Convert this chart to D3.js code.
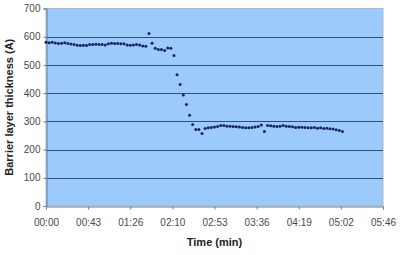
<!DOCTYPE html>
<html>
<head>
<meta charset="utf-8">
<script src="https://cdn.jsdelivr.net/npm/d3@7"></script>
<style>
  body { margin: 0; background: #fff; }
  svg { display: block; font-family: "Liberation Sans", Arial, sans-serif; }
</style>
</head>
<body>
<svg></svg>
<script>
// time in seconds, thickness in angstrom
var times = [
  0, 3.2, 6.4, 9.6, 12.8, 16, 19.2, 22.4, 25.6, 28.8,
  32, 35.2, 38.4, 41.6, 44.8, 48, 51.2, 54.4, 57.6, 60.8,
  64, 67.2, 70.4, 73.6, 76.8, 80, 83.2, 86.4, 89.6, 92.8,
  96, 99.2, 102.4, 105.6, 108.8, 112, 115.2, 118.4, 121.6, 124.8,
  128, 131.2, 134.4, 137.6, 140.8, 144, 147.2, 150.4, 153.6, 156.8,
  160, 163.2, 166.4, 169.6, 172.8, 176, 179.2, 182.4, 185.6, 188.8,
  192, 195.2, 198.4, 201.6, 204.8, 208, 211.2, 214.4, 217.6, 220.8,
  224, 227.2, 230.4, 233.6, 236.8, 240, 243.2, 246.4, 249.6, 252.8,
  256, 259.2, 262.4, 265.6, 268.8, 272, 275.2, 278.4, 281.6, 284.8,
  288, 291.2, 294.4, 297.6, 300.8, 304
];
var thickness = [
  580, 579, 580, 578, 576, 577, 579, 576, 574, 572,
  570, 569, 570, 569, 572, 572, 573, 572, 572, 571,
  575, 577, 576, 576, 575, 575, 571, 570, 571, 572,
  571, 567, 566, 611, 577, 559, 555, 555, 551, 560,
  559, 533, 465, 431, 393, 360, 322, 289, 271, 271,
  257, 275, 277, 278, 280, 282, 285, 285, 283, 283,
  282, 281, 280, 278, 277, 277, 278, 280, 282, 287,
  264, 285, 284, 283, 282, 283, 285, 283, 282, 281,
  278, 279, 279, 278, 277, 277, 278, 276, 277, 275,
  276, 274, 273, 270, 268, 264
];
var xTicks = [0, 43.2, 86.4, 129.6, 172.8, 216, 259.2, 302.4, 345.6];
var yTicks = [0, 100, 200, 300, 400, 500, 600, 700];

var width = 400;
var height = 255;
var margin = { top: 8.5, right: 17, bottom: 49, left: 46 };

var data = times.map((t, i) => ({ t: t, v: thickness[i] }));

var svg = d3.select("svg")
    .attr("width", width)
    .attr("height", height);

var x = d3.scaleLinear()
    .domain([0, 345.6])
    .range([margin.left, width - margin.right]);

var y = d3.scaleLinear()
    .domain([0, 700])
    .range([height - margin.bottom, margin.top]);

function fmtTime(s) {
  var r = Math.round(s);
  var m = Math.floor(r / 60), sec = r % 60;
  return String(m).padStart(2, "0") + ":" + String(sec).padStart(2, "0");
}

// plot area
svg.append("rect")
    .attr("x", x(0))
    .attr("y", y(700))
    .attr("width", x(345.6) - x(0))
    .attr("height", y(0) - y(700))
    .attr("fill", "#9ccbfb")
    .attr("stroke", "#a9b9cc")
    .attr("stroke-width", 1);

// gridlines
svg.append("g")
  .selectAll("line")
  .data(yTicks.filter(d => d > 0 && d < 700))
  .enter()
  .append("line")
    .attr("x1", x(0))
    .attr("x2", x(345.6))
    .attr("y1", d => Math.round(y(d)) + 0.5)
    .attr("y2", d => Math.round(y(d)) + 0.5)
    .attr("stroke", "#2f5079")
    .attr("stroke-width", 1);

// axes
var xAxis = svg.append("g")
    .attr("transform", `translate(0, ${Math.round(y(0)) + 0.5})`)
    .call(d3.axisBottom(x).tickValues(xTicks).tickFormat(fmtTime).tickSize(3).tickPadding(9));

var yAxis = svg.append("g")
    .attr("transform", `translate(${x(0) + 0.5}, 0)`)
    .call(d3.axisLeft(y).tickValues(yTicks).tickSize(3).tickPadding(3));

[xAxis, yAxis].forEach(function(g) {
  g.select(".domain").attr("stroke", "#6d7f96");
  g.selectAll(".tick line").attr("stroke", "#6d7f96");
  g.selectAll(".tick text")
    .attr("fill", "#4a4a4a")
    .style("font-size", "10px")
    .style("font-family", "'Liberation Sans', Arial, sans-serif");
});

// points
svg.append("g")
  .selectAll("circle")
  .data(data)
  .enter()
  .append("circle")
    .attr("cx", d => x(d.t))
    .attr("cy", d => y(d.v))
    .attr("r", 1.5)
    .attr("fill", "#17206a");

// titles
svg.append("text")
    .attr("x", (x(0) + x(345.6)) / 2)
    .attr("y", 246)
    .style("text-anchor", "middle")
    .style("font-size", "11px")
    .style("font-weight", "bold")
    .attr("fill", "#222")
    .text("Time (min)");

svg.append("text")
    .attr("transform", `translate(13, ${(y(0) + y(700)) / 2}) rotate(-90)`)
    .style("text-anchor", "middle")
    .style("font-size", "11px")
    .style("font-weight", "bold")
    .attr("fill", "#222")
    .text("Barrier layer thickness (A)");
</script>
</body>
</html>
